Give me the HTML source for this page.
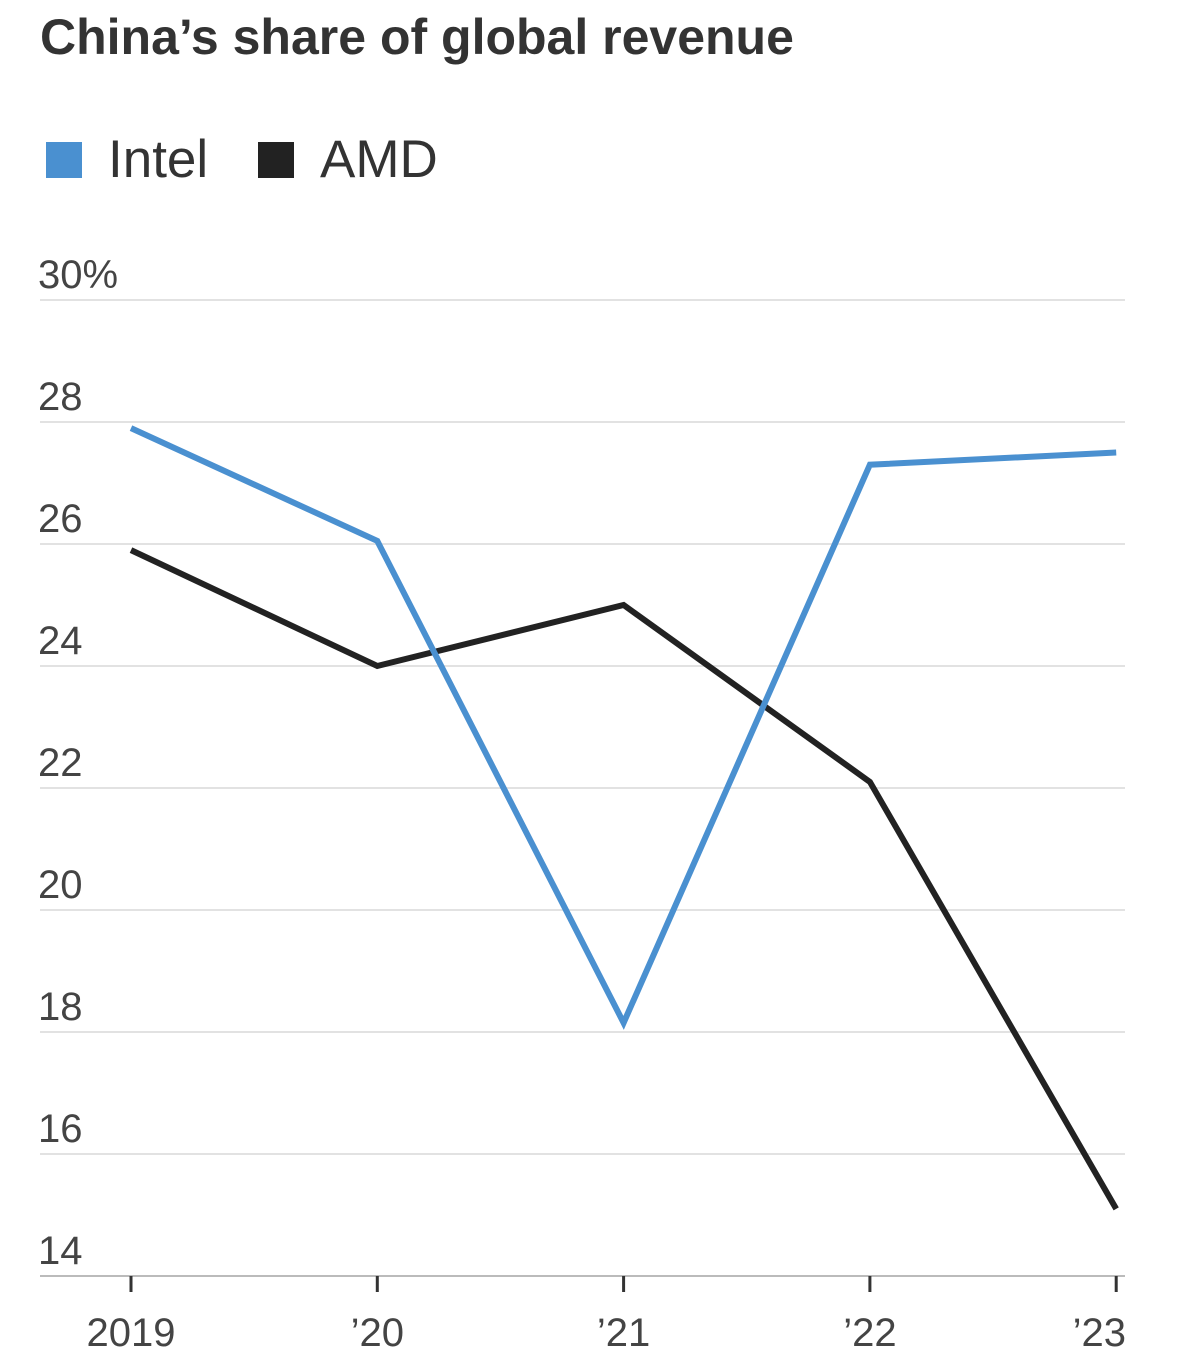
<!DOCTYPE html>
<html><head><meta charset="utf-8"><style>
body{margin:0;background:#fff;width:1200px;height:1353px;overflow:hidden;font-family:"Liberation Sans",sans-serif;}
</style></head><body>
<svg width="1200" height="1353">
<text x="40" y="54" font-size="50" font-weight="bold" fill="#333">China’s share of global revenue</text>
<g>
<rect x="46" y="142" width="36" height="36" fill="#4a90d0"/>
<text x="108" y="177" font-size="53" fill="#333">Intel</text>
<rect x="258" y="142" width="36" height="36" fill="#222"/>
<text x="320" y="177" font-size="53" fill="#333">AMD</text>
</g>
<g id="grid"></g><g id="xaxis"></g><g id="lines"></g>
</svg>
<script>
const years=["2019","’20","’21","’22","’23"];
const intel=[27.9,26.05,18.15,27.3,27.5];
const amd=[25.9,24.0,25.0,22.1,15.1];
const yTicks=[14,16,18,20,22,24,26,28,30];
const yLabels=["14","16","18","20","22","24","26","28","30%"];
const NS="http://www.w3.org/2000/svg";
function y(v){return 1276-(v-14)*61;}
function x(i){return 131+i*246.3;}
const grid=document.getElementById('grid');
yTicks.forEach((t,i)=>{
 const l=document.createElementNS(NS,'line');
 l.setAttribute('x1',40);l.setAttribute('x2',1125);l.setAttribute('y1',y(t));l.setAttribute('y2',y(t));
 l.setAttribute('stroke',i==0?'#bbb':'#e2e2e2');l.setAttribute('stroke-width',2);
 
 
 grid.appendChild(l);
 const tx=document.createElementNS(NS,'text');
 tx.setAttribute('x',38);tx.setAttribute('y',y(t)-12);tx.setAttribute('font-size',40);tx.setAttribute('fill','#444');
 tx.textContent=yLabels[i];
 
 
 grid.appendChild(tx);
});
const xa=document.getElementById('xaxis');
years.forEach((yr,i)=>{
 const l=document.createElementNS(NS,'line');
 l.setAttribute('x1',x(i));l.setAttribute('x2',x(i));l.setAttribute('y1',1276);l.setAttribute('y2',1292);
 l.setAttribute('stroke','#333');l.setAttribute('stroke-width',3);
 
 
 xa.appendChild(l);
 const tx=document.createElementNS(NS,'text');
 tx.setAttribute('x',i==4?1126:x(i));tx.setAttribute('y',1346);tx.setAttribute('font-size',40);tx.setAttribute('fill','#444');
 tx.setAttribute('text-anchor',i==4?'end':'middle');
 tx.textContent=yr;
 
 
 xa.appendChild(tx);
});
const lines=document.getElementById('lines');
[[amd,'#222','amd-line'],[intel,'#4a90d0','intel-line']].forEach(([d,c,n])=>{
 const p=document.createElementNS(NS,'polyline');
 p.setAttribute('points',d.map((v,i)=>x(i)+','+y(v)).join(' '));
 p.setAttribute('fill','none');p.setAttribute('stroke',c);p.setAttribute('stroke-width',6);
 p.setAttribute('stroke-linejoin','miter');
 
 
 lines.appendChild(p);
});
</script>
</body></html>
